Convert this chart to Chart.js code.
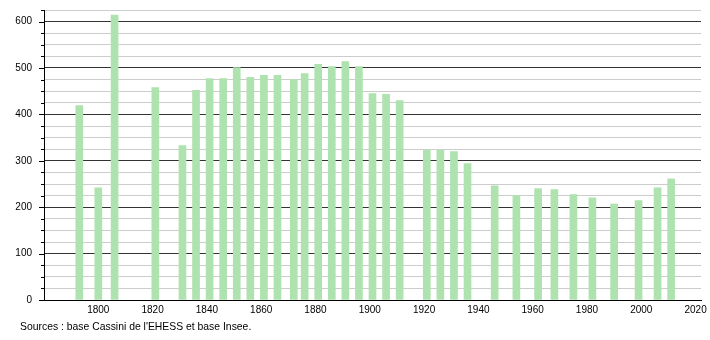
<!DOCTYPE html>
<html>
<head>
<meta charset="utf-8">
<script src="https://cdn.jsdelivr.net/npm/chart.js@4/dist/chart.umd.min.js"></script>
<style>
  html, body { margin: 0; padding: 0; background: #fff; }
  #wrap { position: relative; width: 710px; height: 340px; }
  #src { position: absolute; left: 20px; top: 321px; font: 10.4px "Liberation Sans", Arial, sans-serif; color: #000; white-space: nowrap; }
</style>
</head>
<body>
<div id="wrap">
  <canvas id="c" width="710" height="340"></canvas>
  <div id="src">Sources : base Cassini de l'EHESS et base Insee.</div>
</div>
<script>
const years = [1793, 1800, 1806, 1821, 1831, 1836, 1841, 1846, 1851, 1856, 1861, 1866, 1872, 1876, 1881, 1886, 1891, 1896, 1901, 1906, 1911, 1921, 1926, 1931, 1936, 1946, 1954, 1962, 1968, 1975, 1982, 1990, 1999, 2006, 2011];
const population = [419, 242, 614, 458, 333, 452, 477, 477, 501, 480, 484, 484, 475, 488, 508, 503, 514, 503, 445, 443, 430, 323, 323, 320, 294, 246, 225, 240, 238, 227, 220, 207, 214, 242, 261];
const xTickLabels = [1800, 1820, 1840, 1860, 1880, 1900, 1920, 1940, 1960, 1980, 2000, 2020];
const yTickLabels = [0, 100, 200, 300, 400, 500, 600];

const FONT = "'Liberation Sans', Arial, sans-serif";

const tickMarks = {
  id: 'tickMarks',
  afterDatasetsDraw(chart) {
    const y = chart.scales.y, ctx = chart.ctx;
    const x0 = chart.chartArea.left;
    ctx.save();
    ctx.strokeStyle = '#000';
    ctx.lineWidth = 1;
    y.ticks.forEach(t => {
      const py = Math.round(y.getPixelForValue(t.value)) + 0.5;
      const len = (t.value % 100 === 0) ? 5 : 3;
      ctx.beginPath();
      ctx.moveTo(x0 - len, py);
      ctx.lineTo(x0, py);
      ctx.stroke();
    });
    ctx.restore();
  }
};

function noPad(scale) {
  scale.paddingTop = 0; scale.paddingBottom = 0;
  scale.paddingLeft = 0; scale.paddingRight = 0;
}

new Chart(document.getElementById('c'), {
  type: 'bar',
  data: {
    datasets: [{
      data: years.map((yr, i) => ({ x: yr, y: population[i] })),
      backgroundColor: 'rgb(174,226,174)',
      borderWidth: 0,
      barThickness: 7
    }]
  },
  options: {
    responsive: false,
    animation: false,
    events: [],
    layout: { padding: { top: 10, right: 9, left: 0, bottom: 0 } },
    plugins: { legend: { display: false }, tooltip: { enabled: false } },
    scales: {
      x: {
        type: 'linear',
        offset: false,
        min: 1780,
        max: 2022,
        afterBuildTicks(scale) { scale.ticks = xTickLabels.map(v => ({ value: v })); },
        afterFit(scale) { scale.height = 40; noPad(scale); },
        grid: { display: false, drawTicks: false, offset: false },
        border: { display: true, color: '#000', width: 1 },
        ticks: { color: '#000', font: { family: FONT, size: 10 }, padding: 4, maxRotation: 0, autoSkip: false,
                  callback: v => String(v) }
      },
      y: {
        min: 0,
        max: 625,
        afterFit(scale) { scale.width = 44; noPad(scale); },
        ticks: { stepSize: 25, color: '#000', font: { family: FONT, size: 10 }, padding: 12, autoSkip: false,
                 callback: v => yTickLabels.includes(v) ? String(v) : '' },
        grid: {
          drawTicks: false,
          color: ctx => (ctx.tick && ctx.tick.value % 100 === 0) ? '#333333' : '#cccccc',
          lineWidth: 1
        },
        border: { display: true, color: '#000', width: 1 }
      }
    }
  },
  plugins: [tickMarks]
});
</script>
</body>
</html>
